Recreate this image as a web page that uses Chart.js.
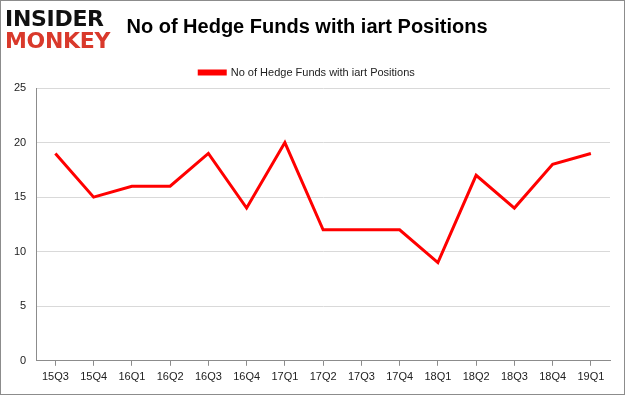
<!DOCTYPE html>
<html>
<head>
<meta charset="utf-8">
<script src="https://cdn.jsdelivr.net/npm/chart.js@4.4.0/dist/chart.umd.min.js"></script>
<style>
    html, body { margin: 0; padding: 0; background: #fff; }
    #wrap {
        position: relative;
        width: 625px;
        height: 395px;
        box-sizing: border-box;
        border: 1px solid #8c8c8c;
    }
    #logo {
        position: absolute;
        left: 4px;
        top: 7px;
        font-family: "DejaVu Sans", sans-serif;
        font-weight: bold;
        font-size: 22px;
        line-height: 22px;
        letter-spacing: -0.3px;
    }
    #logo .a { color: #111; }
    #logo .b { color: #d9392b; }
    canvas { position: absolute; left: 0; top: 0; }
</style>
</head>
<body>
<div id="wrap">
    <canvas id="chartFondos" width="623" height="393"></canvas>
    <div id="logo"><div class="a">INSIDER</div><div class="b">MONKEY</div></div>
</div>
<script>
const trimestres = ['15Q3', '15Q4', '16Q1', '16Q2', '16Q3', '16Q4', '17Q1', '17Q2',
    '17Q3', '17Q4', '18Q1', '18Q2', '18Q3', '18Q4', '19Q1'];
const numFondos = [19, 15, 16, 16, 19, 14, 20, 12, 12, 12, 9, 17, 14, 18, 19];
const ticksY = [0, 5, 10, 15, 20, 25];

const ctx = document.getElementById('chartFondos');

new Chart(ctx, {
    type: 'line',
    data: {
        labels: trimestres,
        datasets: [{
            label: 'No of Hedge Funds with iart Positions',
            data: numFondos,
            borderColor: '#ff0000',
            backgroundColor: '#ff0000',
            borderWidth: 3,
            tension: 0,
            fill: false,
            pointRadius: 0,
            pointHoverRadius: 0
        }]
    },
    options: {
        responsive: false,
        animation: false,
        layout: {
            padding: { left: 3, right: 14, top: 0, bottom: 5 }
        },
        plugins: {
            title: {
                display: true,
                text: 'No of Hedge Funds with iart Positions',
                color: '#000',
                font: { family: '"Liberation Sans", sans-serif', size: 20, weight: 'bold' },
                padding: { top: 14, bottom: 10 }
            },
            legend: {
                display: true,
                position: 'top',
                labels: {
                    color: '#222',
                    font: { family: '"Liberation Sans", sans-serif', size: 11 },
                    boxWidth: 26,
                    boxHeight: 3,
                    padding: 18
                }
            },
            tooltip: { enabled: false }
        },
        scales: {
            x: {
                offset: true,
                grid: {
                    drawOnChartArea: false,
                    drawTicks: true,
                    tickLength: 5,
                    color: '#8c8c8c'
                },
                border: { color: '#8c8c8c' },
                ticks: {
                    color: '#222',
                    font: { family: '"Liberation Sans", sans-serif', size: 11 },
                    maxRotation: 0,
                    padding: 5
                }
            },
            y: {
                min: 0,
                max: 25,
                afterBuildTicks: function (axis) {
                    axis.ticks = ticksY.map(function (v) { return { value: v }; });
                },
                grid: {
                    color: '#d9d9d9',
                    drawTicks: false
                },
                border: { color: '#8c8c8c' },
                ticks: {
                    color: '#222',
                    font: { family: '"Liberation Sans", sans-serif', size: 11 },
                    padding: 10
                }
            }
        }
    }
});
</script>
</body>
</html>
